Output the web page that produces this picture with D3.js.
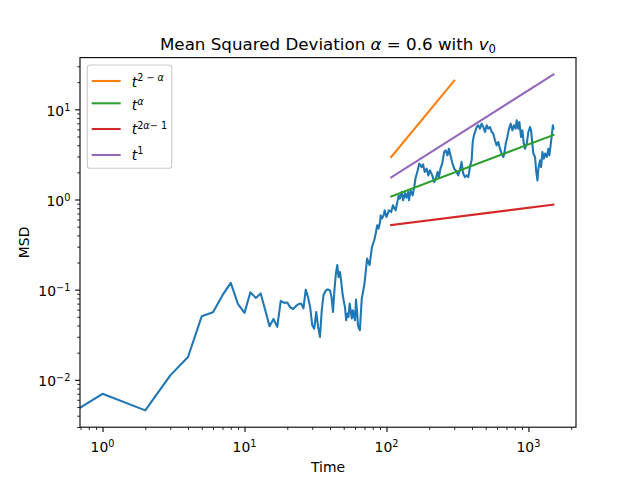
<!DOCTYPE html>
<html><head><meta charset="utf-8">
<script src="https://cdn.jsdelivr.net/npm/d3@7"></script>
<style>body{margin:0;background:#fff} svg{display:block} text{font-family:"DejaVu Sans",sans-serif;fill:#000}</style>
</head><body><svg id="c" width="640" height="480"></svg>
<script>
// ---------- data ----------
const timeVals = [0,1,2,3,4,5,6,7,8,9,10,11,12,13,14,15,16,17,18,19,20,
  21,22,23,24,25,26,27,28,29,30,31,32,33,34,35,36,37,38,39,40,
  41,42,43,44,45,46,47,48,49,50,51,52,53,54,55,56,57,58,59,60,
  61,62,63,64,65,66,67,68,70,73,76,79,82,84,86,88,90,91,93,96,97,
  100,104,108,111,116,120,122,124,128,131,135,138,142,144,148,153,157,160,166,170,
  177,181,186,192,197,202,210,217,223,229,234,240,247,255,261,269,275,284,292,300,
  312,320,329,338,347,357,367,377,387,398,405,413,432,443,455,468,481,494,508,521,
  536,551,565,581,597,613,630,648,665,676,692,710,730,750,770,791,813,826,848,863,
  887,906,927,946,973,998,1026,1043,1065,1083,1113,1132,1157,1175,1208,1228,1254,1282,1310,1346,
  1381,1405,1437,1460,1485,1500];
const msdVals = [0,0.0070,0.00458,0.0112,0.0179,0.0508,0.0563,0.0869,0.119,0.069,0.0553,
  0.0937,0.081,0.0908,0.059,0.0394,0.0474,0.0387,0.0752,0.0714,0.072,
  0.0636,0.061,0.0656,0.069,0.0702,0.062,0.100,0.083,0.064,0.0403,
  0.037,0.0566,0.0386,0.0299,0.0591,0.0867,0.095,0.100,0.100,0.098,
  0.083,0.0566,0.0993,0.15,0.187,0.138,0.157,0.122,0.0906,0.075,
  0.064,0.0458,0.0543,0.0498,0.0702,0.058,0.0478,0.0591,0.052,0.0458,
  0.0777,0.058,0.0403,0.037,0.0355,0.055,0.0796,0.09,0.117,0.221,0.187,0.297,0.353,0.419,0.518,0.476,0.56,0.668,0.614,0.685,0.759,
  0.640,0.759,0.726,0.863,0.759,0.980,1.11,1.02,1.21,0.98,1.18,1.05,1.21,0.98,1.26,1.11,1.38,1.71,2.11,2.50,
  2.29,2.45,2.02,2.20,1.85,2.11,1.85,1.56,1.71,2.02,1.77,2.20,2.50,3.37,3.51,3.09,3.66,2.96,2.50,2.20,
  2.02,1.85,2.11,2.61,1.94,1.77,1.85,1.77,2.29,2.72,4.34,5.15,6.37,6.65,6.11,6.94,6.37,5.60,6.65,6.11,
  6.37,5.60,5.38,4.53,3.99,4.34,3.66,3.23,2.96,3.23,4.17,4.93,6.11,6.94,5.85,6.65,6.11,7.55,6.11,7.23,
  4.93,5.85,4.17,3.66,4.17,5.60,6.37,5.85,4.17,3.23,2.96,2.11,1.63,2.20,2.72,2.29,3.37,2.84,3.23,2.96,
  3.66,3.09,4.17,5.15,6.65,6.11];
// reference power-law guide lines: t^(2-a), t^a, t^(2a-1), t^1
const refT0 = [108, 108, 108, 108];
const refT1 = [300, 1500, 1500, 1500];
const refY0 = [2.96, 1.08, 0.521, 1.76];
const refY1 = [20.8, 5.19, 0.877, 24.4];
const xTickExps = [0, 1, 2, 3];
const yTickExps = [-2, -1, 0, 1];

// ---------- styles ----------
const blue = "#1f77b4";
const refColors = ["#ff7f0e", "#2ca02c", "#d62728", "#9467bd"];
const FS = 13.9, SUP = 9.7;

// ---------- layout ----------
const m = {l: 80, r: 576, t: 57.6, b: 427.2};
const svg = d3.select("#c");

function logDomain(vals) {
  const lo = Math.log10(d3.min(vals)), hi = Math.log10(d3.max(vals));
  const pad = (hi - lo) * 0.05;
  return [Math.pow(10, lo - pad), Math.pow(10, hi + pad)];
}
const x = d3.scaleLog().domain(logDomain(timeVals.filter(v => v > 0).concat(refT0, refT1))).range([m.l, m.r]);
const y = d3.scaleLog().domain(logDomain(msdVals.filter(v => v > 0).concat(refY0, refY1))).range([m.b, m.t]);

svg.append("defs").append("clipPath").attr("id", "pa")
  .append("rect").attr("x", m.l).attr("y", m.t).attr("width", m.r - m.l).attr("height", m.b - m.t);

const pos = v => v > 0 ? v : 1e-100;  // matplotlib-like clipping of non-positive values on log axes
const plot = svg.append("g").attr("clip-path", "url(#pa)");

const line = d3.line().x(d => x(pos(d[0]))).y(d => y(pos(d[1])));
plot.append("path").datum(timeVals.map((t, i) => [t, msdVals[i]]))
  .attr("d", line).attr("fill", "none").attr("stroke", blue)
  .attr("stroke-width", 2.08).attr("stroke-linejoin", "round").attr("stroke-linecap", "square");

refT0.forEach((t0, i) => {
  plot.append("path").datum([[t0, refY0[i]], [refT1[i], refY1[i]]])
    .attr("d", line).attr("fill", "none").attr("stroke", refColors[i])
    .attr("stroke-width", 2.08).attr("stroke-linecap", "square");
});

// ---------- axes ----------
const isMajor = v => Math.abs(Math.log10(v) - Math.round(Math.log10(v))) < 1e-9;
const xt = x.ticks(), yt = y.ticks();
const xMinor = xt.filter(v => !isMajor(v)), yMinor = yt.filter(v => !isMajor(v));
const xMajor = xTickExps.map(e => Math.pow(10, e)), yMajor = yTickExps.map(e => Math.pow(10, e));

function styleAxis(g, w) {
  g.select(".domain").remove();
  g.selectAll(".tick line").attr("stroke", "#000").attr("stroke-width", w);
  g.selectAll(".tick text").remove();
}
svg.append("g").attr("transform", `translate(0,${m.b})`)
  .call(d3.axisBottom(x).tickValues(xMinor).tickSize(2.78).tickFormat("")).call(g => styleAxis(g, 0.83));
svg.append("g").attr("transform", `translate(0,${m.b})`)
  .call(d3.axisBottom(x).tickValues(xMajor).tickSize(4.86).tickFormat("")).call(g => styleAxis(g, 1.1));
svg.append("g").attr("transform", `translate(${m.l},0)`)
  .call(d3.axisLeft(y).tickValues(yMinor).tickSize(2.78).tickFormat("")).call(g => styleAxis(g, 0.83));
svg.append("g").attr("transform", `translate(${m.l},0)`)
  .call(d3.axisLeft(y).tickValues(yMajor).tickSize(4.86).tickFormat("")).call(g => styleAxis(g, 1.1));

const expStr = e => (e < 0 ? "\u2212" : "") + Math.abs(e);
xTickExps.forEach(e => {
  const t = svg.append("text").attr("x", x(Math.pow(10, e))).attr("y", 451.8)
    .attr("text-anchor", "middle").attr("font-size", FS);
  t.append("tspan").text("10");
  t.append("tspan").attr("font-size", SUP).attr("dy", -5).text(expStr(e));
});
yTickExps.forEach(e => {
  const t = svg.append("text").attr("x", 70.3).attr("y", y(Math.pow(10, e)) + 6.3)
    .attr("text-anchor", "end").attr("font-size", FS);
  t.append("tspan").text("10");
  t.append("tspan").attr("font-size", SUP).attr("dy", -5).text(expStr(e));
});

// spines
svg.append("rect").attr("x", m.l).attr("y", m.t).attr("width", m.r - m.l).attr("height", m.b - m.t)
  .attr("fill", "none").attr("stroke", "#000").attr("stroke-width", 1.1);

// labels
svg.append("text").attr("x", (m.l + m.r) / 2).attr("y", 471.5).attr("text-anchor", "middle")
  .attr("font-size", FS).text("Time");
svg.append("text").attr("transform", `translate(29.3,${(m.t + m.b) / 2}) rotate(-90)`)
  .attr("text-anchor", "middle").attr("font-size", FS).text("MSD");

// title
const title = svg.append("text").attr("x", (m.l + m.r) / 2).attr("y", 50).attr("text-anchor", "middle")
  .attr("font-size", 16.7);
title.append("tspan").text("Mean Squared Deviation ");
title.append("tspan").attr("font-style", "italic").text("\u03b1");
title.append("tspan").text(" = 0.6 with ");
title.append("tspan").attr("font-style", "italic").text("v");
title.append("tspan").attr("font-size", 11.7).attr("dy", 2.6).text("0");

// ---------- legend ----------
const lg = svg.append("g");
lg.append("rect").attr("x", 87.3).attr("y", 65).attr("width", 84.4).attr("height", 103.3)
  .attr("rx", 2.8).attr("fill", "#fff").attr("fill-opacity", 0.8)
  .attr("stroke", "#cccccc").attr("stroke-width", 1.1);
const rowLineY = [81, 103.3, 129, 155];
const rowBase = [86.7, 110, 134, 159.5];
const supParts = [
  [["2 \u2212 ", false], ["\u03b1", true]],
  [["\u03b1", true]],
  [["2", false], ["\u03b1", true], ["\u2212 1", false]],
  [["1", false]]
];
refColors.forEach((c, i) => {
  lg.append("line").attr("x1", 91.7).attr("x2", 120.7).attr("y1", rowLineY[i]).attr("y2", rowLineY[i])
    .attr("stroke", c).attr("stroke-width", 2.08);
  const t = lg.append("text").attr("x", 131.7).attr("y", rowBase[i]).attr("font-size", FS);
  t.append("tspan").attr("font-style", "italic").text("t");
  supParts[i].forEach((p, j) => {
    const s = t.append("tspan").attr("font-size", SUP).text(p[0]);
    if (p[1]) s.attr("font-style", "italic");
    if (j === 0) s.attr("dy", -5.5);
  });
});
</script></body></html>
